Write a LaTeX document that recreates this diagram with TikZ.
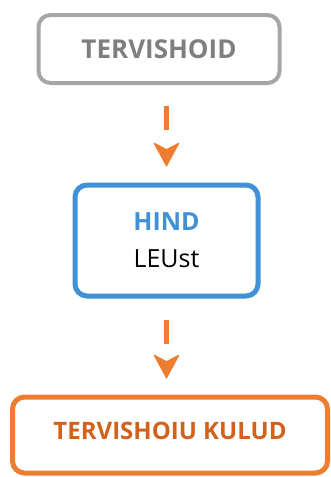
\documentclass[tikz,border=0pt]{standalone}
\usepackage{fontspec}
\setmainfont{Open Sans}
\usepackage{tikz}
\usetikzlibrary{arrows.meta,positioning}

\definecolor{boxgray}{HTML}{A6A6A6}
\definecolor{textgray}{HTML}{7F7F7F}
\definecolor{hindblue}{HTML}{4191D6}
\definecolor{kuluorange}{HTML}{ED7D31}
\definecolor{kulutext}{HTML}{D2621B}

\begin{document}
\begin{tikzpicture}[x=1pt,y=1pt,node distance=193pt,
                    every node/.style={font=\bfseries},
                    sketch/.style={draw,line width=4pt,rounded corners=12pt},
                    flow/.style={draw=kuluorange,line width=5.5pt,
                      dash pattern=on 24pt off 40pt,
                      -{Stealth[length=25pt,width=27pt,inset=7pt,round,line width=1pt]},
                      shorten <=21pt,shorten >=16pt}]
  \useasboundingbox (0,0) rectangle (331,-477);

  \node[sketch,draw=boxgray,text=textgray,minimum width=241pt,minimum height=68pt,
        font=\fontsize{26}{30}\selectfont\bfseries]
        (health) at (159,-49) {TERVISHOID};
  \node[sketch,draw=hindblue,line width=5pt,minimum width=183pt,minimum height=111pt,
        align=center,font=\fontsize{25}{30}\selectfont]
        (price) [below of=health,xshift=7.5pt,yshift=1.5pt]
        {{\bfseries\color{hindblue}HIND}\\[7pt]{\mdseries LEUst}};
  \node[sketch,draw=kuluorange,line width=5pt,text=kulutext,minimum width=315pt,
        minimum height=76pt,text depth=8pt,font=\fontsize{24}{28}\selectfont\bfseries]
        (costs) [below of=price,xshift=3.5pt,yshift=-1.5pt] {TERVISHOIU KULUD};

  \path[flow] (price.north |- health.south) -- (price.north);
  \path[flow] (price.south) -- (price.south |- costs.north);
\end{tikzpicture}
\end{document}
